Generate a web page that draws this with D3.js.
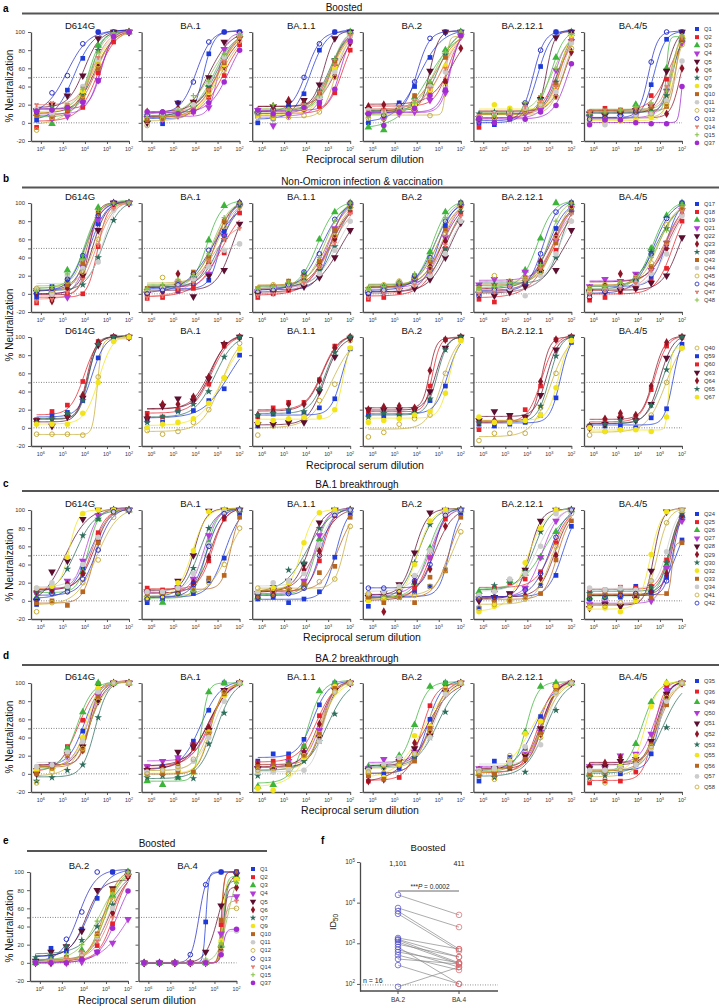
<!DOCTYPE html>
<html><head><meta charset="utf-8">
<script src="https://cdn.jsdelivr.net/npm/d3@7"></script>
<style>body{margin:0;background:#fff}svg{display:block;font-family:"Liberation Sans",Arial,sans-serif}</style>
</head><body><svg id="c" width="721" height="1008"></svg>
<script>
// ---------------- DATA ----------------
const dilutions = [1562500,312500,62500,12500,2500,500,100];
const xTicks = [1e6,1e5,1e4,1e3,1e2];
const yTicks = [-20,0,20,40,50,60,80,100];
const variants = ["D614G","BA.1","BA.1.1","BA.2","BA.2.12.1","BA.4/5"];
const variantsE = ["BA.2","BA.4"];
const sectionTitles = ["Boosted","Non-Omicron infection & vaccination","BA.1 breakthrough","BA.2 breakthrough","Boosted"];

const seriesA = ["Q1","Q2","Q3","Q4","Q5","Q6","Q7","Q9","Q10","Q11","Q12","Q13","Q14","Q15","Q37"];
const seriesB1 = ["Q17","Q18","Q19","Q21","Q22","Q23","Q38","Q43","Q44","Q45","Q46","Q47","Q48"];
const seriesB2 = ["Q40","Q59","Q60","Q63","Q64","Q65","Q67"];
const seriesC = ["Q24","Q25","Q26","Q27","Q28","Q29","Q30","Q32","Q33","Q34","Q41","Q42"];
const seriesD = ["Q35","Q36","Q49","Q50","Q51","Q52","Q53","Q55","Q56","Q57","Q58"];
const seriesE = seriesA;

// % neutralization, one array per series, one block per variant panel
const rowA = [
 [[3,14,36,71,100,100,100],[-5,5,13,17,55,89,100],[10,-1,16,33,85,98,100],[14,5,7,22,47,96,100],[13,20,30,52,93,100,100],[12,8,18,32,62,95,100],[12,18,16,30,80,99,100],[10,12,20,35,68,96,100],[8,6,14,28,60,94,100],[15,10,20,40,70,97,100],[-8,6,18,30,64,95,100],[12,33,52,87,100,100,100],[20,22,20,38,72,97,100],[14,16,19,37,78,99,100],[13,14,17,23,46,95,100]],
 [[6,-1,11,17,76,100,100],[5,5,10,12,28,52,86],[4,6,12,20,42,74,97],[5,4,8,12,17,81,98],[0,8,22,23,50,89,93],[12,10,16,22,38,62,93],[8,5,14,18,40,70,96],[4,6,10,14,34,64,95],[3,5,12,16,36,66,96],[10,10,14,20,44,72,97],[-3,4,8,14,30,58,90],[8,12,22,45,89,100,100],[13,12,12,16,36,68,95],[6,8,14,30,46,76,98],[12,12,10,13,22,45,80]],
 [[0,5,18,32,80,100,100],[8,7,10,15,18,33,80],[12,8,14,18,30,65,100],[14,-3,8,15,24,68,100],[10,18,22,25,42,93,100],[10,18,25,22,30,52,88],[10,12,15,20,35,70,98],[8,6,10,16,28,60,98],[10,8,12,18,32,68,96],[12,10,14,18,28,56,95],[6,4,6,8,12,50,90],[12,15,18,50,87,100,100],[14,12,15,20,34,64,96],[12,20,14,18,30,70,100],[14,10,10,17,22,37,90]],
 [[0,5,22,40,72,100,100],[16,14,16,20,36,46,98],[-5,-8,18,28,44,80,100],[8,4,10,12,25,33,95],[15,12,14,18,57,100,100],[18,20,20,25,35,45,82],[10,12,18,22,38,75,100],[12,10,14,20,36,62,100],[10,12,16,30,42,72,98],[14,12,18,24,40,56,96],[5,5,10,15,8,40,95],[10,8,20,45,93,100,100],[12,14,18,24,38,60,98],[6,10,15,22,45,78,100],[10,-3,12,16,30,36,96]],
 [[0,-2,4,16,62,100,100],[-5,8,6,14,28,40,93],[5,7,10,18,24,72,100],[2,4,8,10,14,58,90],[5,8,10,20,26,94,100],[8,10,12,16,22,30,78],[10,12,10,14,26,45,95],[6,20,16,14,22,40,96],[4,8,10,14,20,42,90],[6,10,12,16,20,34,88],[4,6,8,12,20,28,82],[4,0,5,22,80,100,100],[8,10,12,18,24,40,92],[6,8,14,22,30,60,98],[5,0,5,4,12,19,65]],
 [[0,2,12,8,42,92,100],[8,16,14,16,30,48,90],[10,12,10,20,12,60,95],[6,4,4,8,10,35,88],[10,8,10,14,18,57,100],[5,5,4,6,8,10,60],[8,10,12,14,16,30,90],[2,0,2,4,6,22,95],[12,12,14,14,18,18,92],[4,-2,6,8,10,24,68],[2,4,6,8,10,20,86],[4,6,8,12,67,100,100],[12,14,14,16,20,40,94],[10,12,14,18,22,35,96],[-2,3,3,0,-1,-1,40]]
];
const rowB1 = [
 [[-4,8,16,28,77,100,100],[-10,0,0,0,52,95,100],[2,4,26,40,95,100,100],[4,2,-4,30,82,100,100],[2,-6,8,20,70,100,100],[0,-8,6,18,90,100,100],[2,0,12,10,40,81,100],[4,2,10,34,88,100,100],[5,0,20,28,35,92,100],[6,4,14,24,60,96,100],[0,6,16,42,86,100,100],[-8,-6,2,16,54,94,100],[3,8,22,38,92,100,100]],
 [[2,8,3,11,15,69,98],[-5,-4,4,6,32,45,89],[4,8,12,20,59,97,100],[0,6,12,16,22,64,96],[0,4,8,-3,20,26,77],[-2,2,22,14,34,80,100],[4,6,10,18,30,60,98],[6,8,12,24,40,80,100],[2,6,10,16,30,48,55],[4,18,14,20,36,74,96],[0,4,10,22,48,64,100],[-4,-2,6,12,36,60,72],[6,10,16,20,44,84,100]],
 [[0,4,8,10,20,70,98],[-4,0,4,10,30,62,90],[4,6,12,22,60,90,100],[2,6,10,14,30,72,98],[0,2,6,8,18,40,70],[2,4,12,16,32,60,96],[4,8,10,14,26,52,94],[6,8,14,20,36,70,100],[4,6,8,12,22,48,80],[6,10,12,16,30,64,95],[2,4,10,24,44,82,100],[-2,0,6,12,30,56,88],[6,8,12,18,40,80,100]],
 [[-2,2,6,10,28,75,100],[-6,-4,2,8,20,50,88],[4,8,12,20,46,90,100],[2,6,10,14,26,62,96],[0,2,4,6,16,40,78],[4,6,10,18,30,58,95],[6,8,12,16,24,50,90],[4,6,12,20,36,70,100],[2,4,6,10,20,44,80],[6,10,14,18,28,66,96],[0,4,10,20,40,80,100],[-4,0,6,10,24,54,86],[6,8,12,22,38,84,100]],
 [[2,4,6,14,34,72,100],[-6,-9,4,10,26,48,91],[4,8,12,26,61,100,100],[10,16,14,24,30,58,94],[0,-2,2,8,24,26,70],[2,6,12,14,36,64,96],[8,10,12,14,22,40,90],[6,8,10,18,30,56,100],[2,4,6,-2,20,44,80],[6,20,14,16,24,62,96],[-2,4,8,12,44,90,100],[0,2,8,14,28,60,88],[6,8,12,16,32,80,100]],
 [[0,4,12,17,19,55,100],[-7,-4,2,6,14,28,80],[4,6,10,16,50,86,100],[8,16,14,22,26,56,92],[2,2,4,6,12,20,62],[6,10,22,18,28,50,88],[4,6,10,16,46,72,96],[6,8,12,18,30,56,94],[2,4,8,12,22,44,86],[6,10,12,18,34,76,94],[-4,2,8,14,44,83,100],[0,4,6,12,26,54,90],[6,8,12,18,40,70,98]]
];
const rowB2 = [
 [[-7,-7,-7,-8,56,96,100],[8,14,17,30,77,100,100],[9,18,25,51,95,100,100],[8,2,12,33,91,100,100],[6,10,14,36,94,100,100],[6,10,16,30,92,100,100],[4,4,4,16,50,95,100]],
 [[-3,-7,-4,6,20,55,93],[8,6,19,19,30,43,80],[16,12,20,33,48,90,100],[10,24,32,30,54,92,100],[12,26,26,34,56,92,100],[6,12,18,26,40,78,100],[0,4,6,10,27,55,87]],
 [[-8,2,6,10,30,48,96],[2,15,18,16,22,32,87],[12,22,28,28,53,90,100],[4,4,6,6,40,78,98],[14,18,26,26,52,88,100],[14,16,20,18,43,83,100],[6,8,10,12,12,20,88]],
 [[-10,-5,4,10,14,60,98],[14,13,14,14,30,46,97],[18,18,18,18,46,97,100],[20,20,20,20,40,88,100],[20,23,24,22,63,97,100],[12,16,14,16,32,86,100],[6,8,10,14,18,38,96]],
 [[-14,-6,-6,-6,22,60,96],[4,2,4,6,14,33,94],[-2,6,12,20,46,97,100],[8,18,14,12,36,86,100],[6,8,10,10,51,97,100],[6,6,8,8,24,79,100],[12,6,6,8,14,44,96]],
 [[-8,-4,-2,0,14,50,88],[2,2,2,0,11,21,92],[0,8,12,12,42,90,100],[0,4,10,8,26,77,100],[2,10,16,14,46,94,100],[2,4,8,8,25,64,100],[0,-4,-2,-2,-4,12,88]]
];
const rowC = [
 [[-4,12,14,36,72,100,100],[12,14,18,30,75,97,100],[4,10,16,32,90,100,100],[8,12,22,44,94,100,100],[0,32,44,90,100,100,100],[10,12,18,30,66,100,100],[10,15,35,72,90,100,100],[14,16,48,96,100,100,100],[-2,0,-5,10,64,97,100],[14,20,16,40,70,98,100],[-12,-2,10,20,45,92,100],[2,8,10,24,56,98,100]],
 [[-2,2,8,8,22,47,96],[14,12,12,20,44,90,100],[4,-2,8,12,64,98,100],[8,6,14,24,72,100,100],[10,8,22,50,99,100,100],[6,8,12,20,48,92,100],[4,4,16,36,80,100,100],[4,6,20,55,98,100,100],[8,8,10,14,25,28,92],[10,10,14,30,62,98,100],[2,4,6,12,20,40,80],[2,4,8,18,60,96,100]],
 [[2,4,-2,2,10,48,96],[4,12,12,20,44,94,100],[4,8,10,18,68,98,100],[6,8,12,22,72,100,100],[8,12,22,40,86,100,100],[6,10,20,34,55,96,100],[6,16,34,42,80,100,100],[10,14,20,64,97,100,100],[4,6,12,18,31,38,92],[10,20,22,30,62,96,100],[14,10,12,14,21,24,82],[4,6,8,14,50,94,100]],
 [[-6,4,4,10,16,34,96],[4,2,6,14,48,90,100],[2,4,6,20,58,98,100],[6,4,10,26,48,96,100],[4,8,18,53,97,100,100],[6,-12,8,20,35,82,100],[2,4,14,42,84,100,100],[0,2,12,40,88,100,100],[4,-2,4,-2,26,33,92],[8,10,16,28,56,96,100],[8,4,4,6,16,34,76],[14,14,10,22,40,94,100]],
 [[-8,2,6,14,17,28,82],[6,14,20,24,32,64,100],[10,12,22,30,48,76,100],[2,4,8,14,48,88,100],[0,4,8,34,88,100,100],[2,4,4,6,25,50,100],[4,17,22,32,76,100,100],[-12,-6,4,42,80,100,100],[4,0,0,4,8,45,88],[6,10,24,30,60,96,100],[-8,-4,0,2,18,60,96],[2,4,6,12,30,70,100]],
 [[2,4,4,16,8,26,67],[10,12,15,14,16,45,94],[4,4,6,6,12,40,94],[-4,-2,-6,2,0,36,88],[-8,-4,-6,2,33,98,100],[6,8,8,6,10,30,94],[8,10,10,12,16,42,96],[-8,-8,-12,0,51,98,100],[6,8,8,8,4,8,64],[14,12,14,12,22,54,100],[-6,-6,-2,4,22,86,100],[2,4,6,8,10,22,92]]
];
const rowD = [
 [[6,10,24,47,93,100,100],[2,8,30,59,99,100,100],[4,8,28,68,100,100,100],[4,8,20,38,86,100,100],[0,10,22,30,80,100,100],[2,8,22,26,90,100,100],[-8,-4,4,10,62,100,100],[4,6,22,40,94,100,100],[0,6,20,26,84,100,100],[8,10,24,36,90,100,100],[-10,2,18,28,80,100,100]],
 [[2,8,16,36,70,100,100],[8,6,14,28,48,90,100],[-8,-12,-4,2,90,100,100],[8,14,18,32,44,92,100],[4,6,24,30,48,92,100],[4,8,10,32,51,90,100],[-4,-2,-4,-5,33,67,100],[0,2,4,2,46,86,100],[0,0,2,2,44,88,100],[2,4,6,14,40,80,100],[0,4,8,16,46,90,100]],
 [[14,22,22,38,76,100,100],[12,14,18,30,64,92,100],[-14,-12,10,30,91,100,100],[6,8,14,24,48,96,100],[6,4,8,20,40,92,100],[10,6,8,24,55,94,100],[-2,4,12,14,36,66,100],[-16,-18,6,18,44,96,100],[8,10,10,20,44,94,100],[2,2,4,4,36,90,100],[4,6,0,20,40,90,100]],
 [[-2,0,6,18,60,100,100],[-8,-4,-4,24,75,96,100],[8,10,20,54,96,100,100],[6,16,16,24,50,92,100],[4,8,14,28,42,90,100],[-8,-6,10,34,48,90,100],[6,8,10,18,40,68,100],[0,-4,10,42,52,94,100],[-2,-6,14,14,50,92,100],[4,10,18,22,40,88,100],[2,6,10,22,46,94,100]],
 [[-8,14,18,28,63,98,100],[2,-2,6,18,58,98,100],[0,4,12,46,96,100,100],[6,4,12,22,46,96,100],[2,6,12,20,50,94,100],[4,2,10,16,44,92,100],[-2,-4,6,2,44,70,100],[0,4,14,44,58,96,100],[-2,0,8,16,44,92,100],[4,6,12,30,32,88,100],[2,-6,20,24,40,90,100]],
 [[4,5,0,10,22,84,100],[-10,-8,-8,2,34,96,100],[0,4,10,33,79,100,100],[8,6,20,22,44,92,100],[6,8,14,16,36,88,100],[8,12,18,14,32,86,100],[-4,-2,6,12,30,51,100],[0,4,8,20,74,100,100],[0,2,6,14,32,76,100],[4,4,6,10,28,80,100],[-6,-10,4,16,30,84,100]]
];
const rowE = [
 [[0,16,13,37,71,100,100],[0,0,0,9,19,43,95],[0,2,6,14,27,74,100],[0,0,0,1,12,22,48],[2,12,18,35,80,82,95],[0,0,2,8,28,55,95],[6,8,18,25,40,64,100],[0,2,4,10,30,78,100],[0,2,6,10,32,80,100],[0,2,4,10,26,60,98],[0,2,4,8,30,70,98],[0,6,26,56,100,100,100],[0,2,4,12,24,50,96],[0,4,10,20,46,76,100],[0,0,0,4,12,38,79]],
 [[0,0,0,0,45,100,100],[0,0,0,0,0,42,100],[0,0,0,0,0,20,95],[0,0,0,0,0,32,73],[0,0,0,0,12,63,97],[0,0,0,0,0,14,83],[0,0,0,0,0,16,90],[0,0,0,0,0,24,92],[0,0,0,0,0,47,100],[0,0,0,0,0,10,35],[0,0,0,0,0,18,60],[0,0,0,9,86,100,100],[0,0,0,0,0,12,68],[0,0,0,0,4,22,88],[0,0,0,0,0,9,37]]
];

// panel f: ID50 pairs (BA.2 -> BA.4), n = 16
const fGroups = ["BA.2","BA.4"];
const fBA2 = [15500,7400,6200,5300,1350,1250,1200,1080,950,810,700,610,510,410,290,85];
const fBA4 = [5000,2500,720,650,720,460,330,310,460,100,260,330,220,310,100,260];
const fGeoMean = ["1,101","411"];
const fPText = "= 0.0002";
const fN = "n = 16";

// ---------------- STYLES ----------------
const styles = {
 blueSq:{c:"#1e3ad8",s:"square"}, redSq:{c:"#e6222a",s:"square"}, greenTri:{c:"#3db53a",s:"triUp"},
 magTri:{c:"#b23bd8",s:"triDown"}, marTri:{c:"#5b0f30",s:"triDown"}, drDia:{c:"#8e1526",s:"diamond"},
 teal:{c:"#2e6e5c",s:"star"}, yellow:{c:"#f2e41a",s:"circle"}, brownSq:{c:"#b8651f",s:"square"},
 gray:{c:"#cccccc",s:"circle"}, khaki:{c:"#c9ae3a",s:"open"}, blueOpen:{c:"#2a30c8",s:"open"},
 salmon:{c:"#e37a6e",s:"wye"}, lgreen:{c:"#86c24a",s:"plus"}, purple:{c:"#a12bd0",s:"circle"}
};
const stA = ["blueSq","redSq","greenTri","magTri","marTri","drDia","teal","yellow","brownSq","gray","khaki","blueOpen","salmon","lgreen","purple"];
const stB1 = ["blueSq","redSq","greenTri","magTri","marTri","drDia","teal","brownSq","gray","khaki","blueOpen","salmon","lgreen"];
const stB2 = ["khaki","blueSq","redSq","marTri","drDia","teal","yellow"];
const stC = ["blueSq","redSq","greenTri","magTri","marTri","drDia","teal","yellow","brownSq","gray","khaki","blueOpen"];
const stD = ["blueSq","redSq","greenTri","magTri","marTri","drDia","teal","yellow","brownSq","gray","khaki"];

// ---------------- DRAWING ----------------
const svg = d3.select("#c");
const W = 98, H = 109;
const AX = "#4a4a4a";
const lx = dilutions.map(Math.log10);

function model(p, x){ return p[0] + (p[1]-p[0])/(1+Math.pow(10,(x-p[2])*p[3])); }
function nelderMead(f, x0, steps, iters){
  const n = x0.length;
  let pts = [x0.slice()];
  for(let i=0;i<n;i++){ const p=x0.slice(); p[i]+=steps[i]; pts.push(p); }
  let vals = pts.map(f);
  for(let it=0; it<iters; it++){
    const idx = d3.range(n+1).sort((a,b)=>vals[a]-vals[b]);
    pts = idx.map(i=>pts[i]); vals = idx.map(i=>vals[i]);
    const cen = d3.range(n).map(j=>d3.mean(pts.slice(0,n), p=>p[j]));
    const w = pts[n];
    const xr = cen.map((c,j)=>c+(c-w[j])); const fr=f(xr);
    if(fr<vals[0]){ const xe=cen.map((c,j)=>c+2*(c-w[j])); const fe=f(xe); if(fe<fr){pts[n]=xe;vals[n]=fe;}else{pts[n]=xr;vals[n]=fr;} }
    else if(fr<vals[n-1]){ pts[n]=xr; vals[n]=fr; }
    else { const xc=cen.map((c,j)=>c+0.5*(w[j]-c)); const fc=f(xc);
      if(fc<vals[n]){pts[n]=xc;vals[n]=fc;}
      else { for(let i=1;i<=n;i++){ pts[i]=pts[i].map((v,j)=>pts[0][j]+0.5*(v-pts[0][j])); vals[i]=f(pts[i]); } } }
  }
  let bi = d3.minIndex(vals); return pts[bi];
}
function fit(vals){
  const b0 = Math.min(vals[0],vals[1]), t0 = Math.max(...vals);
  const mid = (b0+t0)/2; let c0 = 3.5;
  for(let i=0;i<6;i++){ if(vals[i]<mid && vals[i+1]>=mid){ c0 = lx[i] + (lx[i+1]-lx[i])*(mid-vals[i])/(vals[i+1]-vals[i]); break; } }
  const sse = p => {
    if(p[3]<0.4||p[3]>7) return 1e9;
    let s=0; for(let i=0;i<7;i++){ const r=model(p,lx[i])-vals[i]; s+=r*r; }
    if(p[1]>103) s+=(p[1]-103)*(p[1]-103)*20;
    if(p[0]<-25) s+=(p[0]+25)*(p[0]+25)*20;
    if(p[2]<1.5||p[2]>7) s+=1e6;
    return s;
  };
  let p = nelderMead(sse,[b0,t0,c0,1.5],[5,5,0.3,0.5],500);
  p = nelderMead(sse,p,[2,2,0.1,0.2],300);
  return p;
}

function symbolPath(kind){
  switch(kind){
    case "square": return d3.symbol(d3.symbolSquare,22)();
    case "triUp": return d3.symbol(d3.symbolTriangle,25)();
    case "triDown": return d3.symbol(d3.symbolTriangle,25)();
    case "diamond": return d3.symbol(d3.symbolDiamond,22)();
    case "star": return d3.symbol(d3.symbolStar,18)();
    case "circle": return d3.symbol(d3.symbolCircle,24)();
    case "open": return d3.symbol(d3.symbolCircle,17)();
    case "wye": return d3.symbol(d3.symbolWye,12)();
    case "plus": return "M-2.6,0H2.6M0,-2.6V2.6";
  }
}
function drawSym(g, cx, cy, key, scale){
  const st = styles[key]; scale = scale||1;
  const p = g.append("path").attr("d", symbolPath(st.s))
    .attr("transform", `translate(${cx},${cy}) scale(${scale})` + (st.s==="triDown"?" rotate(180)":""));
  if(st.s==="open"){ p.attr("fill","none").attr("stroke",st.c).attr("stroke-width",1); }
  else if(st.s==="plus"){ p.attr("fill","none").attr("stroke",st.c).attr("stroke-width",1.2); }
  else p.attr("fill",st.c);
}
function styleAxis(sel){
  sel.select(".domain").attr("stroke",AX).attr("stroke-width",1.3);
  sel.selectAll(".tick line").attr("stroke",AX).attr("stroke-width",0.9);
  sel.selectAll(".tick text").attr("font-size",5.8).attr("fill","#333").attr("font-family","Liberation Sans, Arial, sans-serif");
}

function panel(x0, top, title, data, stKeys, yLabels){
  const g = svg.append("g").attr("transform",`translate(${x0},${top})`);
  const x = d3.scaleLog().domain([2.8e6,100]).range([0,W]);
  const y = d3.scaleLinear().domain([-20,100]).range([H,0]);
  [50,0].forEach(v=>g.append("line").attr("x1",0).attr("x2",W).attr("y1",y(v)).attr("y2",y(v))
    .attr("stroke","#666").attr("stroke-width",0.8).attr("stroke-dasharray","1,1.5"));
  g.append("g").call(d3.axisLeft(y).tickValues(yTicks).tickSize(3).tickSizeOuter(0)
    .tickFormat(d=>(yLabels&&d!==50)?d:"")).call(styleAxis);
  g.append("g").attr("transform",`translate(0,${H})`).call(d3.axisBottom(x).tickValues(xTicks).tickSize(3).tickSizeOuter(0).tickFormat(()=>"")).call(styleAxis);
  xTicks.forEach(v=>{
    const t = g.append("text").attr("x",x(v)).attr("y",H+10).attr("text-anchor","middle").attr("font-size",5.3).attr("fill","#333");
    t.append("tspan").text("10");
    t.append("tspan").attr("dy",-2.2).attr("font-size",3.8).text(Math.round(Math.log10(v)));
  });
  g.append("text").attr("x",W/2).attr("y",-3).attr("text-anchor","middle").attr("font-size",9.5).attr("fill","#111").text(title);
  const line = d3.line().x(d=>x(d[0])).y(d=>y(d[1])).curve(d3.curveLinear);
  data.forEach((vals,i)=>{
    const p = fit(vals);
    const pts = d3.range(81).map(k=>{ const l = lx[0] - k*(lx[0]-lx[6])/80; return [Math.pow(10,l), Math.max(-24,Math.min(104,model(p,l)))]; });
    g.append("path").attr("d",line(pts)).attr("fill","none").attr("stroke",styles[stKeys[i]].c).attr("stroke-width",0.8).attr("opacity",0.95);
  });
  data.forEach((vals,i)=>vals.forEach((v,j)=>drawSym(g, x(dilutions[j]), y(v), stKeys[i])));
}

function legend(x0, y0, dy, names, stKeys){
  names.forEach((n,i)=>{
    const g = svg.append("g");
    drawSym(g, x0, y0+i*dy, stKeys[i], 0.85);
    g.append("text").attr("x",x0+7).attr("y",y0+i*dy+2).attr("font-size",5.8).attr("fill","#333").text(n);
  });
}
function sectionHead(letter, lx0, ly, title, tx, ty, x1, x2, lineY){
  svg.append("text").attr("x",lx0).attr("y",ly).attr("font-size",10).attr("font-weight","bold").text(letter);
  if(title){
    svg.append("text").attr("x",tx).attr("y",ty).attr("text-anchor","middle").attr("font-size",10).attr("fill","#111").text(title);
    svg.append("line").attr("x1",x1).attr("x2",x2).attr("y1",lineY).attr("y2",lineY).attr("stroke","#555").attr("stroke-width",1.8);
  }
}
function yLabel(cy){
  svg.append("text").attr("transform",`translate(13,${cy}) rotate(-90)`).attr("text-anchor","middle").attr("font-size",10).attr("fill","#111").text("% Neutralization");
}
function xLabel(cx, y){
  svg.append("text").attr("x",cx).attr("y",y).attr("text-anchor","middle").attr("font-size",10.5).attr("fill","#111").text("Reciprocal serum dilution");
}

const colX = i => 31 + i*110.6;
function row(top, data, stKeys){ variants.forEach((v,i)=>panel(colX(i), top, v, data[i], stKeys, i===0)); }

// a
sectionHead("a",3,12,sectionTitles[0],344,10.5,22,719,13.5);
row(32,rowA,stA); legend(697,29,8.14,seriesA,stA);
yLabel(86); xLabel(365,163);
// b
sectionHead("b",3,182,sectionTitles[1],362,185,22,719,187.5);
row(203,rowB1,stB1); legend(697,204,8.0,seriesB1,stB1);
row(337,rowB2,stB2); legend(697,348,8.2,seriesB2,stB2);
yLabel(325); xLabel(365,469);
// c
sectionHead("c",3,487,sectionTitles[2],357,488,22,719,491);
row(510,rowC,stC); legend(697,514,8.1,seriesC,stC);
yLabel(565); xLabel(362,641);
// d
sectionHead("d",3,659,sectionTitles[3],357,662,22,719,665);
row(683,rowD,stD); legend(697,681,10.6,seriesD,stD);
yLabel(737); xLabel(360,814);
// e
sectionHead("e",3,844,sectionTitles[4],157,847,27,267,851);
variantsE.forEach((v,i)=>panel(30+i*108.5, 872, v, rowE[i], stA, i===0));
legend(253,869,8.14,seriesE,stA);
yLabel(926); xLabel(137,1004);

// f
(function(){
  sectionHead("f",321,844,null);
  const g = svg.append("g");
  const y = d3.scaleLog().domain([67,1e5]).range([991,862]);
  const x = d3.scalePoint().domain(fGroups).range([398,459]);
  g.append("line").attr("x1",360).attr("x2",498).attr("y1",y(100)+1).attr("y2",y(100)+1).attr("stroke","#777").attr("stroke-width",0.8).attr("stroke-dasharray","1,1.5");
  const ya = d3.axisLeft(y).tickValues([1e2,1e3,1e4,1e5]).tickSize(3).tickSizeOuter(0).tickFormat(()=>"");
  g.append("g").attr("transform","translate(360,0)").call(ya).call(styleAxis);
  g.append("line").attr("x1",360).attr("x2",498).attr("y1",991).attr("y2",991).attr("stroke",AX).attr("stroke-width",1.3);
  [1e2,1e3,1e4,1e5].forEach(v=>{
    const t = g.append("text").attr("x",355).attr("y",y(v)+2).attr("text-anchor","end").attr("font-size",6.5).attr("fill","#333");
    t.append("tspan").text("10"); t.append("tspan").attr("dy",-2.5).attr("font-size",4.5).text(Math.round(Math.log10(v)));
  });
  fGroups.forEach(gr=>{
    g.append("line").attr("x1",x(gr)).attr("x2",x(gr)).attr("y1",991).attr("y2",994).attr("stroke",AX);
    g.append("text").attr("x",x(gr)).attr("y",1002).attr("text-anchor","middle").attr("font-size",6.5).attr("fill","#333").text(gr);
  });
  const t = g.append("text").attr("transform","translate(336,922) rotate(-90)").attr("text-anchor","middle").attr("font-size",9).attr("fill","#111");
  t.append("tspan").text("ID"); t.append("tspan").attr("dy",2).attr("font-size",6.5).text("50");
  g.append("text").attr("x",428).attr("y",851).attr("text-anchor","middle").attr("font-size",9.5).attr("fill","#111").text("Boosted");
  fGeoMean.forEach((m,i)=>g.append("text").attr("x",x(fGroups[i])).attr("y",866).attr("text-anchor","middle").attr("font-size",7).attr("fill","#222").text(m));
  fBA2.forEach((v,i)=>g.append("line").attr("x1",x("BA.2")).attr("y1",y(v)).attr("x2",x("BA.4")).attr("y2",y(fBA4[i])).attr("stroke","#888").attr("stroke-width",0.7));
  fBA2.forEach(v=>g.append("circle").attr("cx",x("BA.2")).attr("cy",y(v)).attr("r",2.8).attr("fill","none").attr("stroke","#4a48c8").attr("stroke-width",0.7));
  fBA4.forEach(v=>g.append("circle").attr("cx",x("BA.4")).attr("cy",y(v)).attr("r",2.8).attr("fill","none").attr("stroke","#d9646a").attr("stroke-width",0.7));
  g.append("line").attr("x1",398).attr("x2",459).attr("y1",891).attr("y2",891).attr("stroke","#444").attr("stroke-width",0.8);
  const pt = g.append("text").attr("x",430).attr("y",889).attr("text-anchor","middle").attr("font-size",6.5).attr("fill","#222");
  pt.append("tspan").text("***"); pt.append("tspan").attr("font-style","italic").text("P"); pt.append("tspan").text(" "+fPText);
  g.append("text").attr("x",363).attr("y",983).attr("font-size",7).attr("fill","#222").text(fN);
})();
</script></body></html>
